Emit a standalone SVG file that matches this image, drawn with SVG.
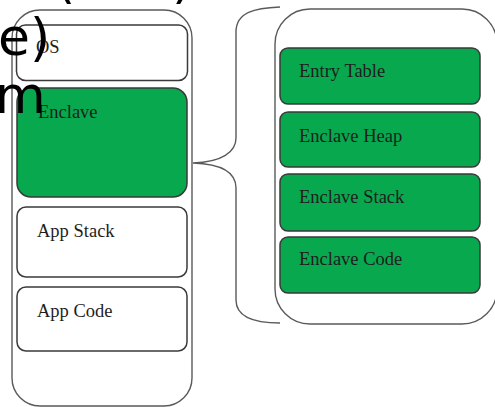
<svg xmlns="http://www.w3.org/2000/svg" width="495" height="407" viewBox="0 0 495 407">
  <style>
    .frame { fill: #ffffff; stroke: #5a5a5a; stroke-width: 1.4; }
    .box { fill: #ffffff; stroke: #3a3a3a; stroke-width: 1.5; }
    .box.green { fill: #07a84e; }
    .label { font-family: "Liberation Serif", "Times New Roman", serif; font-size: 18.5px; fill: #1e1e1e; }
    .big { font-family: "DejaVu Sans", sans-serif; font-size: 52px; fill: #000000; }
    .brace { fill: none; stroke: #5a5a5a; stroke-width: 1.4; }
  </style>

  <rect width="495" height="407" fill="#ffffff"/>

  <!-- application address space -->
  <g id="app-space">
    <rect class="frame" x="12" y="10" width="180" height="396" rx="28" ry="28"/>
  </g>
  <g id="os">
    <rect class="box" x="16.5" y="25" width="171" height="55.5" rx="9" ry="9"/>
    <text class="label" x="36" y="53">OS</text>
  </g>
  <g id="enclave">
    <rect class="box green" x="17" y="88" width="170" height="109" rx="14" ry="14"/>
    <text class="label" x="38" y="118">Enclave</text>
  </g>
  <g id="app-stack">
    <rect class="box" x="17" y="207" width="170" height="70" rx="9" ry="9"/>
    <text class="label" x="37" y="237">App Stack</text>
  </g>
  <g id="app-code">
    <rect class="box" x="17" y="287" width="170" height="64" rx="9" ry="9"/>
    <text class="label" x="37" y="317">App Code</text>
  </g>

  <!-- expanded enclave layout -->
  <g id="enclave-space">
    <rect class="frame" x="275" y="9" width="222" height="315" rx="35" ry="35"/>
  </g>
  <g id="entry-table">
    <rect class="box green" x="280" y="48" width="200" height="56" rx="8" ry="8"/>
    <text class="label" x="299" y="77">Entry Table</text>
  </g>
  <g id="enclave-heap">
    <rect class="box green" x="280" y="112" width="200" height="55" rx="8" ry="8"/>
    <text class="label" x="299" y="142">Enclave Heap</text>
  </g>
  <g id="enclave-stack">
    <rect class="box green" x="280" y="174" width="200" height="57" rx="8" ry="8"/>
    <text class="label" x="299" y="203">Enclave Stack</text>
  </g>
  <g id="enclave-code">
    <rect class="box green" x="280" y="237" width="200" height="56" rx="8" ry="8"/>
    <text class="label" x="299" y="265">Enclave Code</text>
  </g>

  <!-- brace linking the enclave to its expanded layout -->
  <g id="connectors">
    <path class="brace" d="M280,7 C255,8 236,12 236,32 L236,138 C236,152 222,162 193,163 C222,164 236,172 236,188 L236,300 C236,318 255,323 280,323"/>
  </g>

  <!-- large overlaid caption fragments -->
  <g id="caption">
    <text class="big" x="55" y="-3">(</text>
    <text class="big" x="172" y="-3">)</text>
    <text class="big" x="-2" y="55">e)</text>
    <text class="big" x="-5" y="113">m</text>
  </g>
</svg>
